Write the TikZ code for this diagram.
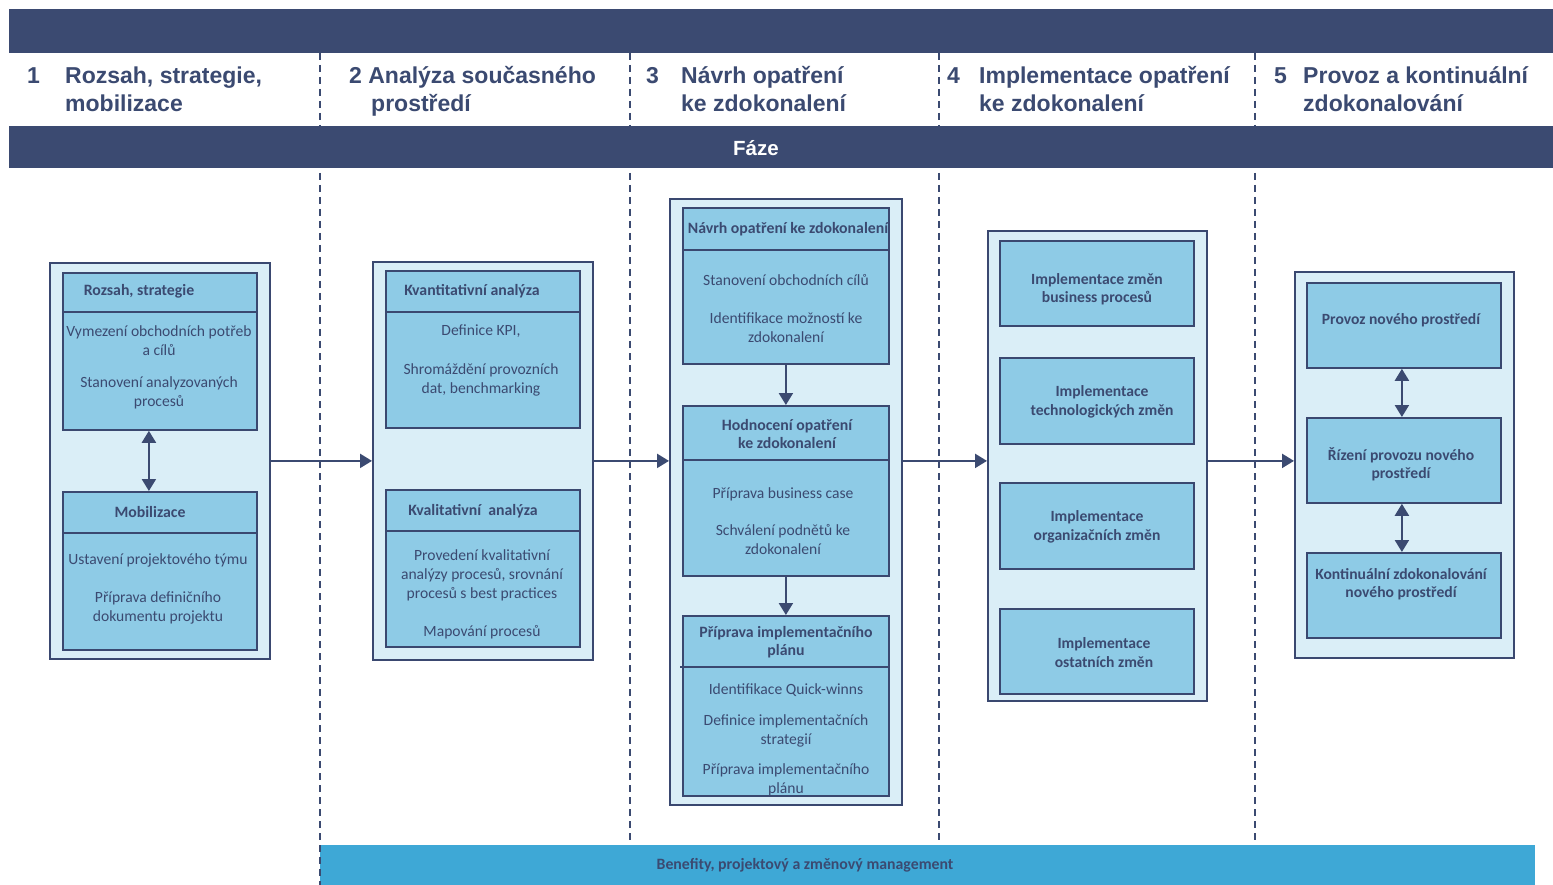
\documentclass[tikz,border=0pt]{standalone}
\usepackage{fontspec}
\setmainfont{Carlito}
\newfontfamily\hdfont{Liberation Sans}
\usetikzlibrary{arrows.meta,calc}
\definecolor{navy}{RGB}{59,74,113}
\definecolor{boxline}{RGB}{58,72,112}
\definecolor{outerfill}{RGB}{218,238,247}
\definecolor{innerfill}{RGB}{142,203,230}
\definecolor{benefit}{RGB}{62,168,214}
\tikzset{
  bar/.style={fill=navy, draw=none},
  hdtext/.style={anchor=base west, inner sep=0pt, text=navy, font=\hdfont\bfseries\fontsize{23}{28}\selectfont},
  phasesep/.style={draw=navy, line width=1.4pt, dash pattern=on 7pt off 5pt},
  outerbox/.style={draw=boxline, fill=outerfill, line width=1.8pt, anchor=north west, inner sep=0pt},
  innerbox/.style={draw=boxline, fill=innerfill, line width=1.8pt, anchor=north west, inner sep=0pt},
  sepline/.style={draw=boxline, line width=1.5pt},
  ttl/.style={inner sep=0pt, text=navy, align=center, font=\bfseries\fontsize{15.8}{18}\selectfont},
  bodytxt/.style={inner sep=0pt, text=navy, align=center, font=\fontsize{15.6}{19}\selectfont},
  bigttl/.style={inner sep=0pt, text=navy, align=center, font=\bfseries\fontsize{15.6}{18.5}\selectfont},
  arr/.style={draw=navy, line width=2.2pt, -{Triangle[width=14pt,length=12pt]}},
  dbl/.style={draw=navy, line width=2.2pt, {Triangle[width=14pt,length=12pt]}-{Triangle[width=14pt,length=12pt]}},
}
\begin{document}
\begin{tikzpicture}[x=1pt,y=-1pt]
\useasboundingbox (0,0) rectangle (1553,885);
\fill[white] (0,0) rectangle (1553,885);

% phase separators
\draw[phasesep] (320,53) -- (320,885);
\draw[phasesep] (630,53) -- (630,845);
\draw[phasesep] (939,53) -- (939,845);
\draw[phasesep] (1255,53) -- (1255,845);

% bars
\fill[bar] (9,9) rectangle (1553,53);
\fill[bar] (9,126) rectangle (1553,168);
\node[inner sep=0pt, text=white, font=\hdfont\bfseries\fontsize{20.5}{24}\selectfont] (faze) at (756,148) {Fáze};

% benefit bar
\fill[benefit] (320,845) rectangle (1535,885);
\draw[phasesep] (320,845) -- (320,885);
\node[inner sep=0pt, text=navy, font=\bfseries\fontsize{15.8}{18}\selectfont] (benef) at (805,865) {Benefity, projektový a změnový management};

% header texts
\node[hdtext] (n1) at (27,84) {1};
\node[hdtext] (h1a) at (65,84) {Rozsah, strategie,};
\node[hdtext] (h1b) at (65,112) {mobilizace};
\node[hdtext] (h2a) at (349,84) {2 Analýza současného};
\node[hdtext] (h2b) at (371,112) {prostředí};
\node[hdtext] (n3) at (646,84) {3};
\node[hdtext] (h3a) at (681,84) {Návrh opatření};
\node[hdtext] (h3b) at (681,112) {ke zdokonalení};
\node[hdtext] (n4) at (947,84) {4};
\node[hdtext] (h4a) at (979,84) {Implementace opatření};
\node[hdtext] (h4b) at (979,112) {ke zdokonalení};
\node[hdtext] (n5) at (1274,84) {5};
\node[hdtext] (h5a) at (1303,84) {Provoz a kontinuální};
\node[hdtext] (h5b) at (1303,112) {zdokonalování};

% ---------- column 1
\node[outerbox, minimum width=220, minimum height=396] (c1) at (49,262) {};
\node[innerbox, minimum width=194, minimum height=157] (rs) at (62,272) {};
\draw[sepline] (rs.west |- 0,312) -- (rs.east |- 0,312);
\node[ttl] (rst) at (139,291) {Rozsah, strategie};
\node[bodytxt] (rsb) at (159,367) {Vymezení obchodních potřeb\\a cílů\\[13pt]Stanovení analyzovaných\\procesů};
\node[innerbox, minimum width=194, minimum height=158] (mob) at (62,491) {};
\draw[sepline] (mob.west |- 0,533) -- (mob.east |- 0,533);
\node[ttl] (mobt) at (150,512) {Mobilizace};
\node[bodytxt] (mobb) at (158,588.5) {Ustavení projektového týmu\\[19pt]Příprava definičního\\dokumentu projektu};
\draw[dbl] ($(rs.south)+(-11,0)$) -- ($(mob.north)+(-11,0)$);

% ---------- column 2
\node[outerbox, minimum width=220, minimum height=398] (c2) at (372,261) {};
\node[innerbox, minimum width=194, minimum height=157] (kvan) at (385,270) {};
\draw[sepline] (kvan.west |- 0,312) -- (kvan.east |- 0,312);
\node[ttl] (kvant) at (472,291) {Kvantitativní analýza};
\node[bodytxt] (kvanb) at (481,360.5) {Definice KPI,\\[20pt]Shromáždění provozních\\dat, benchmarking};
\node[innerbox, minimum width=194, minimum height=157] (kval) at (385,489) {};
\draw[sepline] (kval.west |- 0,531) -- (kval.east |- 0,531);
\node[ttl] (kvalt) at (473,511) {Kvalitativní\ \ analýza};
\node[bodytxt] (kvalb) at (482,594) {Provedení kvalitativní\\analýzy procesů, srovnání\\procesů s best practices\\[19pt]Mapování procesů};

% ---------- column 3
\node[outerbox, minimum width=232, minimum height=606] (c3) at (669,198) {};
\node[innerbox, minimum width=206, minimum height=156] (navrh) at (682,207) {};
\draw[sepline] (navrh.west |- 0,250) -- (navrh.east |- 0,250);
\node[ttl] (navrht) at (788,229) {Návrh opatření ke zdokonalení};
\node[bodytxt] (navrhb) at (786,308.5) {Stanovení obchodních cílů\\[19pt]Identifikace možností ke\\zdokonalení};
\node[innerbox, minimum width=206, minimum height=170] (hodn) at (682,405) {};
\draw[sepline] (hodn.west |- 0,460) -- (hodn.east |- 0,460);
\node[ttl] (hodnt) at (787,434) {Hodnocení opatření\\ke zdokonalení};
\node[bodytxt] (hodnb) at (783,521) {Příprava business case\\[18pt]Schválení podnětů ke\\zdokonalení};
\node[innerbox, minimum width=206, minimum height=180] (prip) at (682,615) {};
\draw[sepline] ($(prip.west |- 0,667)+(-2,0)$) -- (prip.east |- 0,667);
\node[ttl] (pript) at (786,642) {Příprava implementačního\\plánu};
\node[bodytxt] (pripb) at (786,740) {Identifikace Quick-winns\\[12pt]Definice implementačních\\strategií\\[11pt]Příprava implementačního\\plánu};
\draw[arr] (navrh.south) -- (hodn.north);
\draw[arr] (hodn.south) -- (prip.north);

% ---------- column 4
\node[outerbox, minimum width=219, minimum height=470] (c4) at (987,230) {};
\node[innerbox, minimum width=194, minimum height=85] (i1) at (999,240) {};
\node[bigttl] (i1t) at (1097,289.5) {Implementace změn\\business procesů};
\node[innerbox, minimum width=194, minimum height=86] (i2) at (999,357) {};
\node[bigttl] (i2t) at (1102,402) {Implementace\\technologických změn};
\node[innerbox, minimum width=194, minimum height=86] (i3) at (999,482) {};
\node[bigttl] (i3t) at (1097,527) {Implementace\\organizačních změn};
\node[innerbox, minimum width=194, minimum height=85] (i4) at (999,608) {};
\node[bigttl] (i4t) at (1104,652.5) {Implementace\\ostatních změn};

% ---------- column 5
\node[outerbox, minimum width=219, minimum height=386] (c5) at (1294,271) {};
\node[innerbox, minimum width=194, minimum height=85] (p1) at (1306,282) {};
\node[bigttl] (p1t) at (1401,320) {Provoz nového prostředí};
\node[innerbox, minimum width=194, minimum height=85] (p2) at (1306,417) {};
\node[bigttl] (p2t) at (1401,464.5) {Řízení provozu nového\\prostředí};
\node[innerbox, minimum width=194, minimum height=85] (p3) at (1306,552) {};
\node[bigttl] (p3t) at (1401,584) {Kontinuální zdokonalování\\nového prostředí};
\draw[dbl] ($(p1.south)+(-2,0)$) -- ($(p2.north)+(-2,0)$);
\draw[dbl] ($(p2.south)+(-2,0)$) -- ($(p3.north)+(-2,0)$);

% ---------- connectors between phases
\draw[arr] (c1.east) -- (c2.west);
\draw[arr] (c2.east) -- (c2.east -| c3.west);
\draw[arr] (c3.east |- c2.east) -- (c2.east -| c4.west);
\draw[arr] (c4.east |- c2.east) -- (c2.east -| c5.west);
\end{tikzpicture}
\end{document}
